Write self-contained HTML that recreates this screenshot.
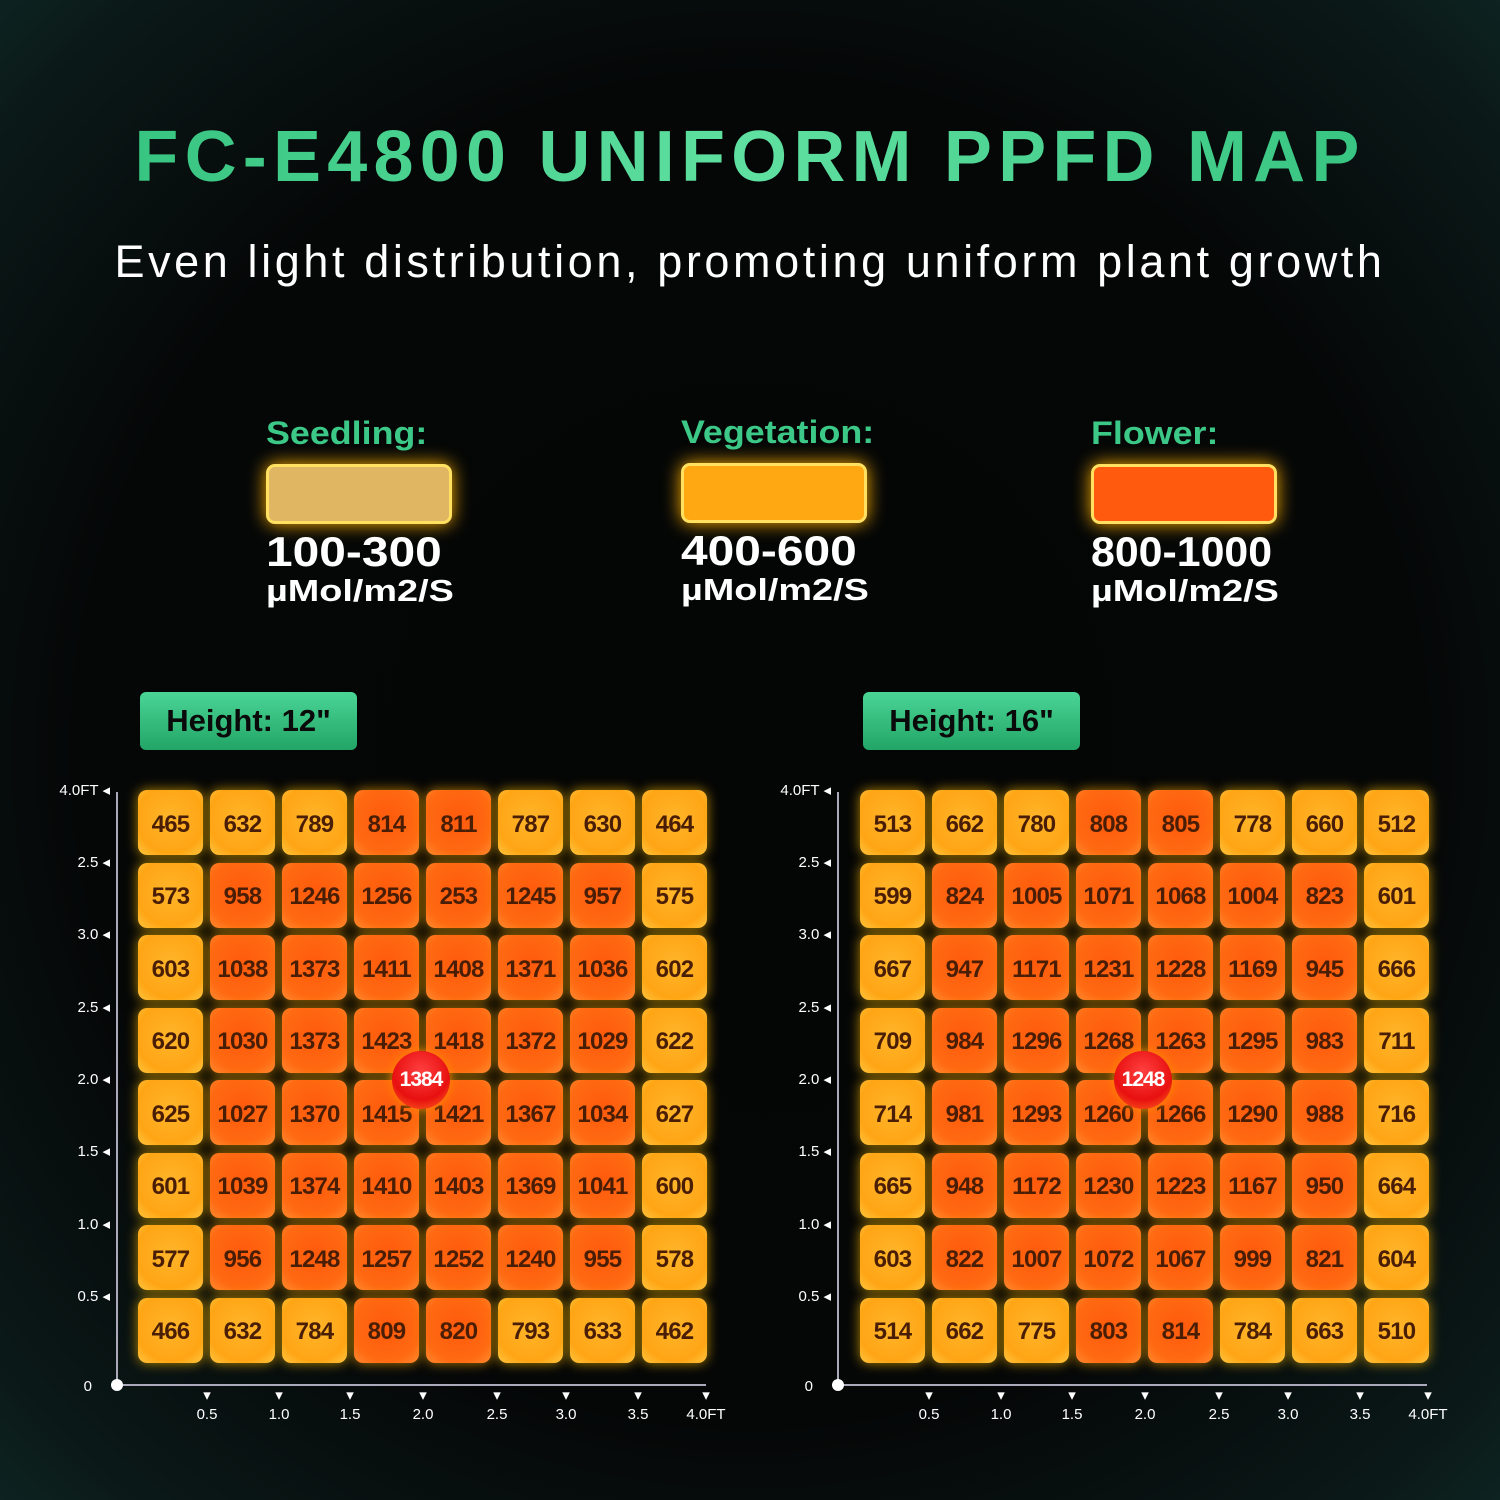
<!DOCTYPE html>
<html><head><meta charset="utf-8"><style>
*{margin:0;padding:0;box-sizing:border-box}
body{width:1500px;height:1500px;overflow:hidden;position:relative;font-family:"Liberation Sans",sans-serif;
background:radial-gradient(ellipse 75% 75% at 50% 50%,#040505 0%,#050707 60%,#0a1817 85%,#0f2a27 100%);}
h1{position:absolute;left:0;width:1500px;top:116px;text-align:center;font-size:72px;font-weight:900;letter-spacing:6.2px;
background:linear-gradient(90deg,#2fbf7a,#5fe0a0 50%,#2fbf7a);-webkit-background-clip:text;color:transparent;}
.sub{position:absolute;left:0;width:1500px;top:236px;text-align:center;color:#fff;font-size:45px;letter-spacing:3.6px}
.lg{position:absolute;width:260px}
.lg .t{color:#3cc886;font-weight:bold;font-size:32px;transform:scaleX(1.12);transform-origin:left}
.lg .box{width:186px;height:60px;border-radius:9px;margin-top:12px;border:3px solid #ffe060;box-shadow:0 0 18px #ffb000}
.lg .v{color:#fff;font-weight:bold;font-size:42px;line-height:44px;margin-top:6px;transform:scaleX(1.14);transform-origin:left}
.lg .u{color:#fff;font-weight:bold;font-size:31px;line-height:34px;transform:scaleX(1.22);transform-origin:left}
.badge{position:absolute;top:692px;width:217px;height:58px;border-radius:6px;background:linear-gradient(#4ad596,#22a566);
color:#0a0a0a;font-weight:bold;font-size:31px;text-align:center;line-height:58px}
.grid{position:absolute;top:790px;display:grid;grid-template-columns:repeat(8,65px);grid-auto-rows:65px;column-gap:7px;row-gap:7.5px}
.grid b{border-radius:9px;display:flex;align-items:center;justify-content:center;font-size:24px;letter-spacing:-0.8px;color:#4a1e05;padding-top:4px}
.y{background:radial-gradient(circle at 50% 45%,#ffb52a,#ffa515 70%,#ffc640);box-shadow:0 0 12px rgba(255,190,0,.7)}
.r{background:radial-gradient(circle at 50% 45%,#ff5a0c,#ff6a12 70%,#ff8a30);box-shadow:0 0 12px rgba(255,170,0,.7)}
.vl{position:absolute;width:2px;background:#aab;top:792px;height:594px}
.hl{position:absolute;height:2px;background:#aab;top:1384px;width:590px}
.dot{position:absolute;width:12px;height:12px;border-radius:50%;background:#fff;top:1379px}
.yl{position:absolute;color:#fff;font-size:15px;width:60px;text-align:right}
.xl{position:absolute;color:#fff;font-size:15px;top:1386px;width:60px;text-align:center;line-height:19px}
.mk{position:absolute;width:58px;height:58px;border-radius:50%;background:radial-gradient(circle at 50% 35%,#ff4040,#e81010 60%,#ff7020);
box-shadow:0 0 10px #ff8a00;color:#fff;font-weight:bold;font-size:21px;letter-spacing:-1px;display:flex;align-items:center;justify-content:center}
</style></head><body>
<h1>FC-E4800 UNIFORM PPFD MAP</h1>
<div class="sub">Even light distribution, promoting uniform plant growth</div>

<div class="lg" style="left:266px;top:415px"><div class="t">Seedling:</div><div class="box" style="background:#e0b662"></div><div class="v">100-300</div><div class="u">µMol/m2/S</div></div>
<div class="lg" style="left:681px;top:414px"><div class="t">Vegetation:</div><div class="box" style="background:#ffa812"></div><div class="v">400-600</div><div class="u">µMol/m2/S</div></div>
<div class="lg" style="left:1091px;top:415px"><div class="t">Flower:</div><div class="box" style="background:#ff5a0e"></div><div class="v" style="transform:scaleX(1.02)">800-1000</div><div class="u">µMol/m2/S</div></div>

<div class="badge" style="left:140px">Height: 12"</div>
<div class="badge" style="left:863px">Height: 16"</div>

<div class="vl" style="left:116px"></div><div class="hl" style="left:116px"></div><div class="dot" style="left:111px"></div>
<div class="yl" style="left:50px;top:781px">4.0FT ◂</div>
<div class="yl" style="left:50px;top:853px">2.5 ◂</div>
<div class="yl" style="left:50px;top:925px">3.0 ◂</div>
<div class="yl" style="left:50px;top:998px">2.5 ◂</div>
<div class="yl" style="left:50px;top:1070px">2.0 ◂</div>
<div class="yl" style="left:50px;top:1142px">1.5 ◂</div>
<div class="yl" style="left:50px;top:1215px">1.0 ◂</div>
<div class="yl" style="left:50px;top:1287px">0.5 ◂</div>
<div class="yl" style="left:32px;top:1378px">0</div>
<div class="xl" style="left:177px">▾<br>0.5</div><div class="xl" style="left:249px">▾<br>1.0</div><div class="xl" style="left:320px">▾<br>1.5</div><div class="xl" style="left:393px">▾<br>2.0</div><div class="xl" style="left:467px">▾<br>2.5</div><div class="xl" style="left:536px">▾<br>3.0</div><div class="xl" style="left:608px">▾<br>3.5</div><div class="xl" style="left:676px">▾<br>4.0FT</div>

<div class="vl" style="left:837px"></div><div class="hl" style="left:837px"></div><div class="dot" style="left:832px"></div>
<div class="yl" style="left:771px;top:781px">4.0FT ◂</div>
<div class="yl" style="left:771px;top:853px">2.5 ◂</div>
<div class="yl" style="left:771px;top:925px">3.0 ◂</div>
<div class="yl" style="left:771px;top:998px">2.5 ◂</div>
<div class="yl" style="left:771px;top:1070px">2.0 ◂</div>
<div class="yl" style="left:771px;top:1142px">1.5 ◂</div>
<div class="yl" style="left:771px;top:1215px">1.0 ◂</div>
<div class="yl" style="left:771px;top:1287px">0.5 ◂</div>
<div class="yl" style="left:753px;top:1378px">0</div>
<div class="xl" style="left:899px">▾<br>0.5</div><div class="xl" style="left:971px">▾<br>1.0</div><div class="xl" style="left:1042px">▾<br>1.5</div><div class="xl" style="left:1115px">▾<br>2.0</div><div class="xl" style="left:1189px">▾<br>2.5</div><div class="xl" style="left:1258px">▾<br>3.0</div><div class="xl" style="left:1330px">▾<br>3.5</div><div class="xl" style="left:1398px">▾<br>4.0FT</div>

<div class="grid" style="left:138px">
<b class=y>465</b><b class=y>632</b><b class=y>789</b><b class=r>814</b><b class=r>811</b><b class=y>787</b><b class=y>630</b><b class=y>464</b>
<b class=y>573</b><b class=r>958</b><b class=r>1246</b><b class=r>1256</b><b class=r>253</b><b class=r>1245</b><b class=r>957</b><b class=y>575</b>
<b class=y>603</b><b class=r>1038</b><b class=r>1373</b><b class=r>1411</b><b class=r>1408</b><b class=r>1371</b><b class=r>1036</b><b class=y>602</b>
<b class=y>620</b><b class=r>1030</b><b class=r>1373</b><b class=r>1423</b><b class=r>1418</b><b class=r>1372</b><b class=r>1029</b><b class=y>622</b>
<b class=y>625</b><b class=r>1027</b><b class=r>1370</b><b class=r>1415</b><b class=r>1421</b><b class=r>1367</b><b class=r>1034</b><b class=y>627</b>
<b class=y>601</b><b class=r>1039</b><b class=r>1374</b><b class=r>1410</b><b class=r>1403</b><b class=r>1369</b><b class=r>1041</b><b class=y>600</b>
<b class=y>577</b><b class=r>956</b><b class=r>1248</b><b class=r>1257</b><b class=r>1252</b><b class=r>1240</b><b class=r>955</b><b class=y>578</b>
<b class=y>466</b><b class=y>632</b><b class=y>784</b><b class=r>809</b><b class=r>820</b><b class=y>793</b><b class=y>633</b><b class=y>462</b>
</div>
<div class="grid" style="left:860px">
<b class=y>513</b><b class=y>662</b><b class=y>780</b><b class=r>808</b><b class=r>805</b><b class=y>778</b><b class=y>660</b><b class=y>512</b>
<b class=y>599</b><b class=r>824</b><b class=r>1005</b><b class=r>1071</b><b class=r>1068</b><b class=r>1004</b><b class=r>823</b><b class=y>601</b>
<b class=y>667</b><b class=r>947</b><b class=r>1171</b><b class=r>1231</b><b class=r>1228</b><b class=r>1169</b><b class=r>945</b><b class=y>666</b>
<b class=y>709</b><b class=r>984</b><b class=r>1296</b><b class=r>1268</b><b class=r>1263</b><b class=r>1295</b><b class=r>983</b><b class=y>711</b>
<b class=y>714</b><b class=r>981</b><b class=r>1293</b><b class=r>1260</b><b class=r>1266</b><b class=r>1290</b><b class=r>988</b><b class=y>716</b>
<b class=y>665</b><b class=r>948</b><b class=r>1172</b><b class=r>1230</b><b class=r>1223</b><b class=r>1167</b><b class=r>950</b><b class=y>664</b>
<b class=y>603</b><b class=r>822</b><b class=r>1007</b><b class=r>1072</b><b class=r>1067</b><b class=r>999</b><b class=r>821</b><b class=y>604</b>
<b class=y>514</b><b class=y>662</b><b class=y>775</b><b class=r>803</b><b class=r>814</b><b class=y>784</b><b class=y>663</b><b class=y>510</b>
</div>
<div class="mk" style="left:392px;top:1051px">1384</div>
<div class="mk" style="left:1114px;top:1051px">1248</div>
</body></html>
